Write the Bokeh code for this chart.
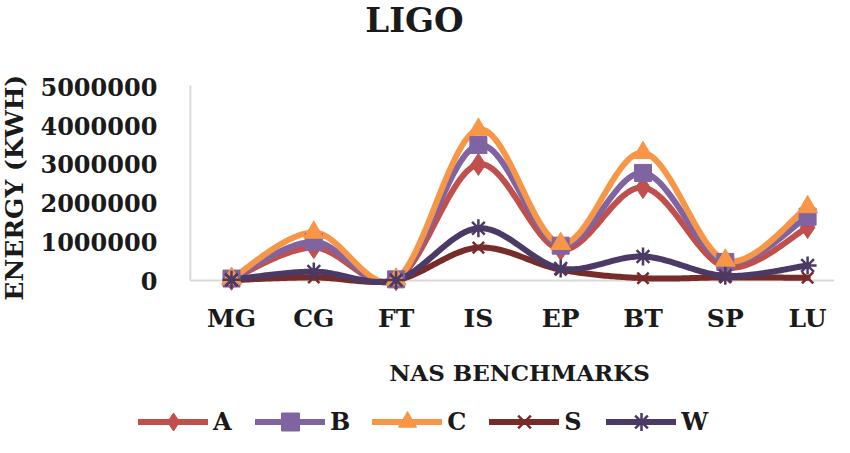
import numpy as np
from bokeh.plotting import figure
from bokeh.models import Legend, LegendItem, Label
from bokeh.core.properties import value
from bokeh.embed import file_html
from bokeh.resources import INLINE

# ---- data ----
categories = ["MG", "CG", "FT", "IS", "EP", "BT", "SP", "LU"]
series_names = ["A", "B", "C", "S", "W"]
A = [30000, 850000, 20000, 3000000, 800000, 2400000, 350000, 1370000]
B = [50000, 1000000, 30000, 3500000, 900000, 2780000, 480000, 1650000]
C = [50000, 1240000, 30000, 3900000, 950000, 3300000, 520000, 1900000]
S = [10000, 80000, 5000, 850000, 280000, 60000, 80000, 70000]
W = [20000, 230000, 10000, 1350000, 310000, 620000, 120000, 390000]
y_ticks = [0, 1000000, 2000000, 3000000, 4000000, 5000000]
y_tick_labels = [str(v) for v in y_ticks]
title_text = "LIGO"
x_title = "NAS BENCHMARKS"
y_title = "ENERGY (KWH)"

series = {"A": A, "B": B, "C": C, "S": S, "W": W}
colors = {"A": "#C0504D", "B": "#8064A2", "C": "#F79646", "S": "#772C2A", "W": "#4B3A66"}
markers = {"A": "diamond", "B": "square", "C": "triangle", "S": "x", "W": "asterisk"}
msizes = {"A": 22, "B": 17, "C": 20, "S": 16, "W": 18}

FONT = value("DejaVu Serif")
BOLD = value("bold")
TXT = "#1a1a1a"
AXIS_GREY = "#D9D9D9"

W_PX, H_PX = 834, 437


def smooth(xs, ys, n=40):
    """Excel-like smoothed line: Catmull-Rom style cubic Bezier segments."""
    xs = np.asarray(xs, float)
    ys = np.asarray(ys, float)
    px = np.concatenate([[xs[0]], xs, [xs[-1]]])
    py = np.concatenate([[ys[0]], ys, [ys[-1]]])
    t = np.linspace(0, 1, n)
    ox, oy = [], []
    for i in range(len(xs) - 1):
        p0 = np.array([px[i], py[i]])
        p1 = np.array([px[i + 1], py[i + 1]])
        p2 = np.array([px[i + 2], py[i + 2]])
        p3 = np.array([px[i + 3], py[i + 3]])
        c1 = p1 + (p2 - p0) / 6.0
        c2 = p2 - (p3 - p1) / 6.0
        tt = t if i == 0 else t[1:]
        bx = (1 - tt) ** 3 * p1[0] + 3 * (1 - tt) ** 2 * tt * c1[0] + 3 * (1 - tt) * tt ** 2 * c2[0] + tt ** 3 * p2[0]
        by = (1 - tt) ** 3 * p1[1] + 3 * (1 - tt) ** 2 * tt * c1[1] + 3 * (1 - tt) * tt ** 2 * c2[1] + tt ** 3 * p2[1]
        ox.extend(bx.tolist())
        oy.extend(by.tolist())
    return ox, oy


xs = list(range(len(categories)))
n_cat = len(categories)

# layout: the frame covers the whole canvas
cat_px = 82.3          # pixels per category
x0_px = 231            # pixel of first category
zero_px = 280          # pixel (from top) of value 0
px_per_unit = 38.7 / 1e6
x_start = -x0_px / cat_px
x_end = (W_PX - x0_px) / cat_px
y_end = zero_px / px_per_unit
y_start = -(H_PX - zero_px) / px_per_unit

p = figure(width=W_PX, height=H_PX, x_range=(x_start, x_end), y_range=(y_start, y_end),
           output_backend="svg", toolbar_location=None,
           min_border=0, min_border_left=0, min_border_right=0, min_border_top=0, min_border_bottom=0)
p.xaxis.visible = False
p.yaxis.visible = False
p.xgrid.grid_line_color = None
p.ygrid.grid_line_color = None
p.outline_line_color = None
p.background_fill_color = "white"
p.border_fill_color = "white"

axis_x = -0.5
y_axis_top = y_ticks[-1] * 1.008

# axis lines
p.segment(x0=[axis_x], y0=[y_ticks[0]], x1=[axis_x], y1=[y_axis_top],
          line_color=AXIS_GREY, line_width=2)
p.segment(x0=[axis_x], y0=[0], x1=[x_end], y1=[0], line_color=AXIS_GREY, line_width=2)

# y tick labels
p.text(x=[axis_x] * len(y_ticks), y=y_ticks, text=y_tick_labels, x_offset=-33,
       text_align="right", text_baseline="middle", text_font=FONT, text_font_style=BOLD,
       text_font_size="24px", text_color=TXT)
# x tick labels
p.text(x=xs, y=[0] * n_cat, text=categories, y_offset=38,
       text_align="center", text_baseline="middle", text_font=FONT, text_font_style=BOLD,
       text_font_size="25px", text_color=TXT)
# x axis title
p.text(x=[(n_cat - 1) / 2], y=[0], text=[x_title], y_offset=92,
       text_align="center", text_baseline="middle", text_font=FONT, text_font_style=BOLD,
       text_font_size="23px", text_color=TXT)
# y axis title
p.text(x=[axis_x], y=[y_ticks[-1] / 2], text=[y_title], x_offset=-176, y_offset=4, angle=np.pi / 2,
       text_align="center", text_baseline="middle", text_font=FONT, text_font_style=BOLD,
       text_font_size="25px", text_color=TXT)
# chart title
p.add_layout(Label(x=414, y=H_PX - 19, x_units="screen", y_units="screen", text=title_text,
                   text_align="center", text_baseline="middle", text_font="DejaVu Serif",
                   text_font_style="bold", text_font_size="34px", text_color=TXT))

line_r = {}
mark_r = {}
for name in series_names:
    sx, sy = smooth(xs, series[name])
    line_r[name] = p.line(sx, sy, line_color=colors[name], line_width=6,
                          line_cap="round", line_join="round")
for name in series_names:
    lw = 2.5 if markers[name] in ("x", "asterisk") else 1
    mark_r[name] = p.scatter(xs, series[name], marker=markers[name], size=msizes[name],
                             fill_color=colors[name], line_color=colors[name], line_width=lw)

legend = Legend(items=[LegendItem(label=n, renderers=[line_r[n], mark_r[n]]) for n in series_names],
                orientation="horizontal", location=(138, -7),
                glyph_width=70, glyph_height=45, label_standoff=5, spacing=22,
                padding=0, margin=0, border_line_color=None, background_fill_alpha=0,
                label_text_font="DejaVu Serif", label_text_font_style="bold",
                label_text_font_size="24px", label_text_color=TXT)
p.add_layout(legend)

open("out.html", "w").write(file_html(p, INLINE))
